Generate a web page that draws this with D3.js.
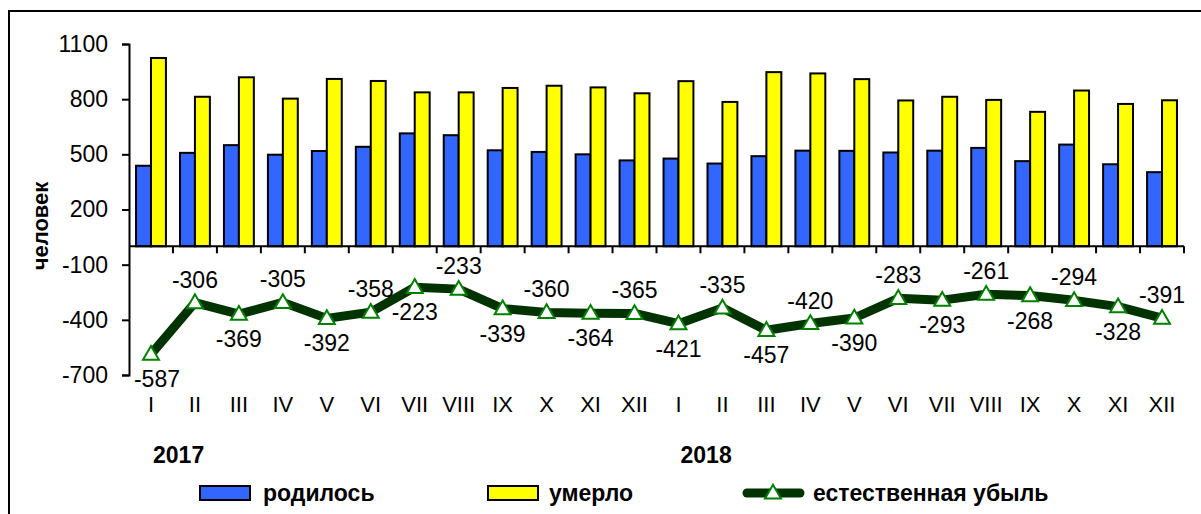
<!DOCTYPE html>
<html lang="ru">
<head>
    <meta charset="UTF-8">
    <title>Естественное движение населения</title>
    <script src="https://cdn.jsdelivr.net/npm/d3@7"></script>
    <style>
        body { margin: 0; background: #fff; }
        text { font-family: "Liberation Sans", Arial, sans-serif; fill: #000; }
    </style>
</head>
<body>
<div id="chart"></div>

<script>

// months, 2017 then 2018
const months = ["I", "II", "III", "IV", "V", "VI", "VII", "VIII", "IX", "X", "XI", "XII",
                "I", "II", "III", "IV", "V", "VI", "VII", "VIII", "IX", "X", "XI", "XII"];
const years = ["2017", "2018"];

const born = [438, 508, 550, 498, 518, 541, 614, 604, 522, 513, 500, 467,
              477, 450, 490, 520, 519, 510, 520, 535, 463, 553, 446, 403];
const died = [1024, 813, 919, 803, 910, 899, 837, 837, 861, 873, 864, 832,
              898, 785, 947, 940, 909, 793, 813, 796, 731, 847, 774, 794];
const naturalLoss = [-587, -306, -369, -305, -392, -358, -223, -233, -339, -360, -364, -365,
                     -421, -335, -457, -420, -390, -283, -293, -261, -268, -294, -328, -391];

const yTicks = [-700, -400, -100, 200, 500, 800, 1100];

const legendLabels = ["родилось", "умерло", "естественная убыль"];

const BLUE = "#3366ff";
const YELLOW = "#ffff00";
const LINE_GREEN = "#003300";
const MARK_GREEN = "#008000";

const width = 1201;
const height = 514;

const svg = d3.select("#chart")
    .append("svg")
    .attr("width", width)
    .attr("height", height);

// outer frame (runs past right and bottom edge)
svg.append("rect")
    .attr("x", 9).attr("y", 11)
    .attr("width", 1220).attr("height", 520)
    .attr("fill", "none")
    .attr("stroke", "#000")
    .attr("stroke-width", 2);

const plotLeft = 129, plotRight = 1184;
const y = d3.scaleLinear([-700, 1100], [375, 44]);

const idx = d3.range(months.length);
const x0 = d3.scaleBand(idx, [plotLeft, plotRight])
    .paddingInner(0.32)
    .paddingOuter(0.16);
const x1 = d3.scaleBand([0, 1], [0, x0.bandwidth()]);
const step = x0.step();
const cx = i => x0(i) + x0.bandwidth() / 2;

// bars
const barG = svg.append("g");
const series = [born, died];
const fills = [BLUE, YELLOW];
series.forEach((vals, s) => {
    barG.selectAll(null)
        .data(vals)
        .join("rect")
        .attr("x", (d, i) => x0(i) + x1(s))
        .attr("y", d => y(d))
        .attr("width", x1.bandwidth())
        .attr("height", d => y(0) - y(d))
        .attr("fill", fills[s])
        .attr("stroke", "#000")
        .attr("stroke-width", 2);
});

// y axis
const yAxis = d3.axisLeft(y)
    .tickValues(yTicks)
    .tickSize(7)
    .tickPadding(14)
    .tickFormat(d => String(d));

const gy = svg.append("g")
    .attr("transform", `translate(${plotLeft},0)`)
    .call(yAxis);
gy.select(".domain").attr("stroke-width", 2);
gy.selectAll(".tick line").attr("stroke-width", 2);
gy.selectAll(".tick text")
    .style("font-size", "23px")
    .style("font-family", "'Liberation Sans', Arial, sans-serif")
    .attr("fill", "#000");

// x axis line at zero, ticks between categories
const gx = svg.append("g");
gx.append("line")
    .attr("x1", plotLeft).attr("x2", plotRight)
    .attr("y1", y(0)).attr("y2", y(0))
    .attr("stroke", "#000")
    .attr("stroke-width", 2);
gx.selectAll("line.tk")
    .data(d3.range(1, months.length + 1))
    .join("line")
    .attr("class", "tk")
    .attr("x1", i => plotLeft + i * step)
    .attr("x2", i => plotLeft + i * step)
    .attr("y1", y(0))
    .attr("y2", y(0) + 7)
    .attr("stroke", "#000")
    .attr("stroke-width", 2);

// month labels
svg.append("g")
    .selectAll("text")
    .data(months)
    .join("text")
    .attr("x", (d, i) => cx(i))
    .attr("y", 412)
    .attr("text-anchor", "middle")
    .style("font-size", "22px")
    .text(d => d);

// year labels
svg.append("g")
    .selectAll("text")
    .data(years)
    .join("text")
    .attr("x", (d, i) => x0(i * 12) + 17)
    .attr("y", 463)
    .style("font-size", "23px")
    .style("font-weight", "bold")
    .text(d => d);

// y axis title
svg.append("text")
    .attr("transform", `translate(48,226) rotate(-90)`)
    .attr("text-anchor", "middle")
    .style("font-size", "22px")
    .style("font-weight", "bold")
    .text("человек");

// natural loss line
const triangle = d3.symbol().type(d3.symbolTriangle).size(110);

const line = d3.line()
    .x((d, i) => cx(i))
    .y(d => y(d));

svg.append("path")
    .datum(naturalLoss)
    .attr("d", line)
    .attr("fill", "none")
    .attr("stroke", LINE_GREEN)
    .attr("stroke-width", 9)
    .attr("stroke-linejoin", "round");

svg.append("g")
    .selectAll("path")
    .data(naturalLoss)
    .join("path")
    .attr("d", triangle)
    .attr("transform", (d, i) => `translate(${cx(i)},${y(d) + 1})`)
    .attr("fill", "#fff")
    .attr("stroke", MARK_GREEN)
    .attr("stroke-width", 2);

// value labels: alternate below / above
svg.append("g")
    .selectAll("text")
    .data(naturalLoss)
    .join("text")
    .attr("x", (d, i) => cx(i) + (i === 0 ? 6 : 0))
    .attr("y", (d, i) => i % 2 === 0 ? y(d) + 33 : y(d) - 15)
    .attr("text-anchor", "middle")
    .style("font-size", "23px")
    .text(d => d);

// legend
const lg = svg.append("g");
const lgY = 486;
lg.append("rect")
    .attr("x", 200).attr("y", lgY)
    .attr("width", 50).attr("height", 14)
    .attr("fill", BLUE).attr("stroke", "#000").attr("stroke-width", 2);
lg.append("text")
    .attr("x", 263).attr("y", lgY + 15)
    .style("font-size", "23px").style("font-weight", "bold")
    .text(legendLabels[0]);

lg.append("rect")
    .attr("x", 488).attr("y", lgY)
    .attr("width", 50).attr("height", 14)
    .attr("fill", YELLOW).attr("stroke", "#000").attr("stroke-width", 2);
lg.append("text")
    .attr("x", 549).attr("y", lgY + 15)
    .style("font-size", "23px").style("font-weight", "bold")
    .text(legendLabels[1]);

lg.append("line")
    .attr("x1", 747).attr("x2", 800)
    .attr("y1", lgY + 7).attr("y2", lgY + 7)
    .attr("stroke", LINE_GREEN).attr("stroke-width", 9)
    .attr("stroke-linecap", "round");
lg.append("path")
    .attr("d", triangle)
    .attr("transform", `translate(773,${lgY + 8})`)
    .attr("fill", "#fff").attr("stroke", MARK_GREEN).attr("stroke-width", 2);
lg.append("text")
    .attr("x", 813).attr("y", lgY + 15)
    .style("font-size", "23px").style("font-weight", "bold")
    .text(legendLabels[2]);

</script>
</body>
</html>
